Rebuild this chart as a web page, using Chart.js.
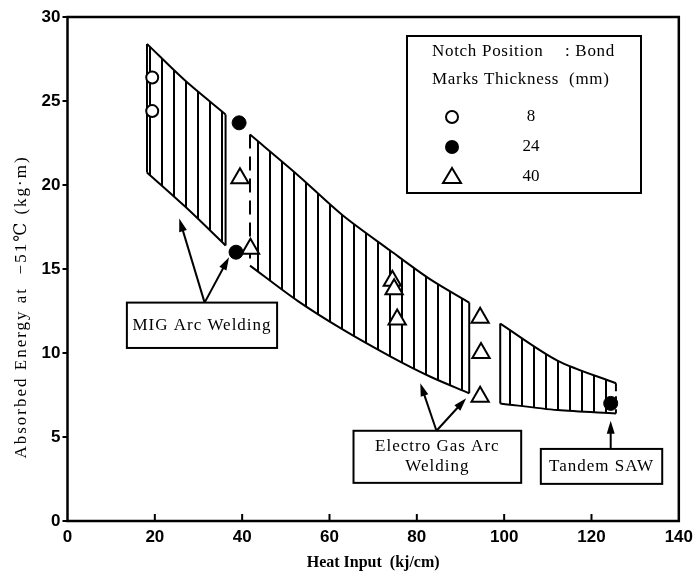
<!DOCTYPE html>
<html>
<head>
<meta charset="utf-8">
<script src="https://cdn.jsdelivr.net/npm/chart.js@4.4.0/dist/chart.umd.min.js"></script>
<style>
  body { margin: 0; background: #fff; }
  #wrap { width: 699px; height: 574px; }
</style>
</head>
<body>
<div id="wrap"><canvas id="myGraph"></canvas></div>
<script>
// axis ticks
const xTicks = [0, 20, 40, 60, 80, 100, 120, 140];
const yTicks = [0, 5, 10, 15, 20, 25, 30];

// scatter bands (heat input, upper / lower absorbed energy)
const migX = [18.2, 27, 36.2];
const migTop = [28.4, 26.2, 24.2];
const migBottom = [20.75, 18.7, 16.4];

const egwX = [41.8, 52.7, 63, 73.9, 83, 92];
const egwTop = [23.0, 20.6, 18.2, 16.1, 14.4, 13.0];
const egwBottom = [15.2, 13.1, 11.4, 9.8, 8.6, 7.6];

const sawX = [99.1, 112.2, 125.6];
const sawTop = [11.75, 9.55, 8.2];
const sawBottom = [7.0, 6.6, 6.4];

// measured points, by plate thickness
const t8X = [19.4, 19.4];
const t8Y = [26.4, 24.4];
const t24X = [39.3, 38.6, 124.4];
const t24Y = [23.7, 16.0, 7.0];
const t40X = [39.5, 41.9, 74.4, 74.8, 75.5, 94.5, 94.7, 94.5];
const t40Y = [20.4, 16.2, 14.3, 13.8, 12.0, 12.1, 10.0, 7.4];

const serif = "'Liberation Serif', 'DejaVu Serif', serif";
const narrow = "'Liberation Sans Narrow', 'Liberation Sans', sans-serif";
const yTitle = "Absorbed Energy at  −51℃ (kg·m)";

const canvas = document.getElementById("myGraph");
const ctx0 = canvas.getContext("2d");

// vertical hatching
const hatch = document.createElement("canvas");
hatch.width = 12;
hatch.height = 4;
const hctx = hatch.getContext("2d");
hctx.fillStyle = "#000";
hctx.fillRect(5, 0, 2, 4);
const hatchFill = ctx0.createPattern(hatch, "repeat");

const pts = (xs, ys) => xs.map((x, i) => ({ x: x, y: ys[i] }));

function band(xs, top, bottom, dashLeft, dashRight) {
  const n = xs.length - 1;
  const line = { showLine: true, pointRadius: 0, borderColor: "#000", borderWidth: 2, order: 2 };
  return [
    { ...line, data: pts(xs, top), fill: "+1", backgroundColor: hatchFill, tension: 0.3 },
    { ...line, data: pts(xs, bottom), fill: false, tension: 0.3 },
    { ...line, data: [{ x: xs[0], y: top[0] }, { x: xs[0], y: bottom[0] }], fill: false,
      borderDash: dashLeft ? [14, 8] : [] },
    { ...line, data: [{ x: xs[n], y: top[n] }, { x: xs[n], y: bottom[n] }], fill: false,
      borderDash: dashRight ? [8, 5] : [] },
  ];
}

// legend box and annotation boxes
const legendRows = [
  { style: "openCircle", label: "8" },
  { style: "dot", label: "24" },
  { style: "triangle", label: "40" },
];

const notes = [
  { box: [13.6, 13.0, 48.0, 10.3], lines: ["MIG Arc Welding"], from: [31.4, 13.0],
    tips: [[25.6, 18.0], [37.0, 15.7]] },
  { box: [65.5, 5.37, 103.9, 2.27], lines: ["Electro Gas Arc", "Welding"], from: [84.5, 5.37],
    tips: [[80.8, 8.2], [91.3, 7.3]] },
  { box: [108.4, 4.29, 136.2, 2.21], lines: ["Tandem SAW"], from: [124.4, 4.29],
    tips: [[124.4, 5.96]] },
];

function marker(ctx, style, x, y) {
  ctx.save();
  ctx.lineWidth = 2;
  ctx.strokeStyle = "#000";
  ctx.fillStyle = "#000";
  ctx.beginPath();
  if (style === "dot") {
    ctx.arc(x, y, 7, 0, Math.PI * 2);
    ctx.fill();
  } else if (style === "openCircle") {
    ctx.arc(x, y, 6, 0, Math.PI * 2);
    ctx.stroke();
  } else {
    ctx.moveTo(x, y - 9);
    ctx.lineTo(x + 9, y + 6);
    ctx.lineTo(x - 9, y + 6);
    ctx.closePath();
    ctx.stroke();
  }
  ctx.restore();
}

function arrow(ctx, x0, y0, x1, y1) {
  const a = Math.atan2(y1 - y0, x1 - x0);
  const L = 13, W = 4;
  ctx.beginPath();
  ctx.moveTo(x0, y0);
  ctx.lineTo(x1 - 6 * Math.cos(a), y1 - 6 * Math.sin(a));
  ctx.stroke();
  ctx.beginPath();
  ctx.moveTo(x1, y1);
  ctx.lineTo(x1 - L * Math.cos(a) + W * Math.sin(a), y1 - L * Math.sin(a) - W * Math.cos(a));
  ctx.lineTo(x1 - L * Math.cos(a) - W * Math.sin(a), y1 - L * Math.sin(a) + W * Math.cos(a));
  ctx.closePath();
  ctx.fill();
}

const decorations = {
  id: "decorations",
  afterDraw(chart) {
    const ctx = chart.ctx;
    const a = chart.chartArea;
    const sx = chart.scales.x;
    const sy = chart.scales.y;
    ctx.save();
    ctx.strokeStyle = "#000";
    ctx.fillStyle = "#000";

    // frame
    ctx.lineWidth = 2.5;
    ctx.strokeRect(a.left, a.top, a.right - a.left, a.bottom - a.top);

    // inward ticks on x axis
    ctx.lineWidth = 2;
    xTicks.slice(1, -1).forEach((v) => {
      const px = sx.getPixelForValue(v);
      ctx.beginPath();
      ctx.moveTo(px, a.bottom);
      ctx.lineTo(px, a.bottom - 7);
      ctx.stroke();
    });

    // y axis title (wide letter spacing like the scan)
    ctx.save();
    ctx.translate(22, 307);
    ctx.rotate(-Math.PI / 2);
    ctx.font = "17px " + serif;
    ctx.letterSpacing = "2px";
    ctx.textAlign = "center";
    ctx.textBaseline = "middle";
    ctx.fillText(yTitle, 0, 0);
    ctx.restore();

    ctx.letterSpacing = "0.7px";

    // legend
    ctx.lineWidth = 2;
    ctx.fillStyle = "#fff";
    ctx.fillRect(407, 36, 234, 157);
    ctx.strokeRect(407, 36, 234, 157);
    ctx.fillStyle = "#000";
    ctx.font = "17px " + serif;
    ctx.textBaseline = "middle";
    ctx.textAlign = "left";
    ctx.fillText("Notch Position", 432, 52);
    ctx.fillText(": Bond", 565, 52);
    ctx.fillText("Marks Thickness  (mm)", 432, 80);
    ctx.textAlign = "center";
    ctx.letterSpacing = "0px";
    legendRows.forEach((r, i) => {
      const y = 117 + i * 30;
      marker(ctx, r.style, 452, y);
      ctx.fillText(r.label, 531, y);
    });

    // annotation boxes with arrows
    ctx.letterSpacing = "1px";
    notes.forEach((n) => {
      const x0 = sx.getPixelForValue(n.box[0]);
      const y0 = sy.getPixelForValue(n.box[1]);
      const x1 = sx.getPixelForValue(n.box[2]);
      const y1 = sy.getPixelForValue(n.box[3]);
      ctx.lineWidth = 2;
      ctx.fillStyle = "#fff";
      ctx.fillRect(x0, y0, x1 - x0, y1 - y0);
      ctx.strokeRect(x0, y0, x1 - x0, y1 - y0);
      ctx.fillStyle = "#000";
      ctx.font = "17px " + serif;
      ctx.textAlign = "center";
      const cy = (y0 + y1) / 2;
      const lh = 20;
      n.lines.forEach((t, i) => {
        ctx.fillText(t, (x0 + x1) / 2, cy + (i - (n.lines.length - 1) / 2) * lh);
      });
      const fx = sx.getPixelForValue(n.from[0]);
      const fy = sy.getPixelForValue(n.from[1]);
      ctx.lineWidth = 2;
      n.tips.forEach((t) => {
        arrow(ctx, fx, fy, sx.getPixelForValue(t[0]), sy.getPixelForValue(t[1]));
      });
    });
    ctx.restore();
  },
};

new Chart(canvas, {
  type: "scatter",
  data: {
    datasets: [
      { label: "8", data: pts(t8X, t8Y), pointStyle: "circle", pointRadius: 6,
        backgroundColor: "#fff", borderColor: "#000", borderWidth: 2, order: 0 },
      { label: "24", data: pts(t24X, t24Y), pointStyle: "circle", pointRadius: 7,
        backgroundColor: "#000", borderColor: "#000", borderWidth: 1, order: 0 },
      { label: "40", data: pts(t40X, t40Y), pointStyle: "triangle", pointRadius: 10,
        backgroundColor: "#fff", borderColor: "#000", borderWidth: 2, order: 0 },
      ...band(migX, migTop, migBottom, false, false),
      ...band(egwX, egwTop, egwBottom, true, false),
      ...band(sawX, sawTop, sawBottom, false, true),
    ],
  },
  options: {
    responsive: true,
    maintainAspectRatio: false,
    animation: false,
    layout: { padding: { top: 17, right: 18, left: 0, bottom: 0 } },
    plugins: {
      legend: { display: false },
      tooltip: { enabled: false },
    },
    scales: {
      x: {
        type: "linear",
        min: 0,
        max: 140,
        afterBuildTicks: (s) => { s.ticks = xTicks.map((v) => ({ value: v })); },
        afterFit: (s) => { s.height = 53; },
        ticks: { color: "#000", padding: 6, font: { family: narrow, size: 17, weight: "bold" } },
        grid: { drawOnChartArea: false, drawTicks: false },
        border: { display: false },
        title: {
          display: true,
          text: "Heat Input  (kj/cm)",
          color: "#000",
          font: { family: serif, size: 16, weight: "bold" },
          padding: { top: 4, bottom: 2 },
        },
      },
      y: {
        min: 0,
        max: 30,
        afterBuildTicks: (s) => { s.ticks = yTicks.map((v) => ({ value: v })); },
        afterFit: (s) => { s.width = 67.5; },
        ticks: { color: "#000", padding: 2, font: { family: narrow, size: 17, weight: "bold" } },
        grid: { drawOnChartArea: false, drawTicks: true, tickLength: 5, color: "#000", lineWidth: 2 },
        border: { display: false },
        title: { display: false, text: yTitle },
      },
    },
  },
  plugins: [decorations],
});
</script>
</body>
</html>
